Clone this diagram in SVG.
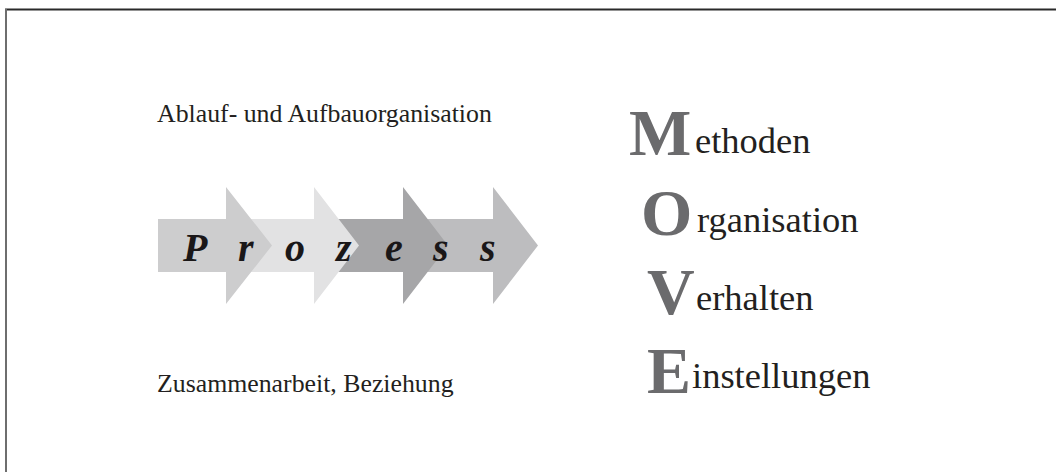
<svg xmlns="http://www.w3.org/2000/svg" width="1056" height="472" viewBox="0 0 1056 472">
<style>
.lbl{font-family:"Liberation Serif","Times New Roman",serif;font-size:25.8px;fill:#231f20}
.pz{font-family:"Liberation Serif","Times New Roman",serif;font-size:40px;font-weight:bold;font-style:italic;fill:#1a1718}
.big{font-family:"Liberation Serif","Times New Roman",serif;font-size:66px;font-weight:bold;fill:#6b6b6d}
.word{font-family:"Liberation Serif","Times New Roman",serif;font-size:36.5px;fill:#231f20}
</style>
<rect width="1056" height="472" fill="#ffffff"/>
<g id="frame">
<line x1="5" y1="9.5" x2="1056" y2="9.5" stroke="#2a2a2a" stroke-width="2"/>
<line x1="6" y1="9" x2="6" y2="472" stroke="#6e6e6e" stroke-width="2"/>
</g>
<g id="arrows">
<polygon id="arrow4" points="420,219 493,219 493,187 538,245.5 493,304 493,272 420,272" fill="#bdbdbf"/>
<polygon id="arrow3" points="330,219 403,219 403,187 448,245.5 403,304 403,272 330,272" fill="#a6a6a8"/>
<polygon id="arrow2" points="240,219 314,219 314,187 359,245.5 314,304 314,272 240,272" fill="#e2e2e3"/>
<polygon id="arrow1" points="158,219 226,219 226,187 272,245.5 226,304 226,272 158,272" fill="#cdcdce"/>
</g>
<g id="prozess">
<text class="pz" x="183 238 285 336 385 433 480" y="261">Prozess</text>
</g>
<g id="label-top">
<text class="lbl" x="157" y="122">Ablauf- und Aufbauorganisation</text>
</g>
<g id="label-bottom">
<text class="lbl" x="157" y="392">Zusammenarbeit, Beziehung</text>
</g>
<g id="move-m">
<text class="big" x="629" y="155">M</text>
<text class="word" x="695" y="153">ethoden</text>
</g>
<g id="move-o">
<text class="big" x="641" y="235">O</text>
<text class="word" x="697" y="232">rganisation</text>
</g>
<g id="move-v">
<text class="big" x="647" y="314">V</text>
<text class="word" x="696" y="310">erhalten</text>
</g>
<g id="move-e">
<text class="big" x="647" y="393">E</text>
<text class="word" x="692" y="388">instellungen</text>
</g>
</svg>
